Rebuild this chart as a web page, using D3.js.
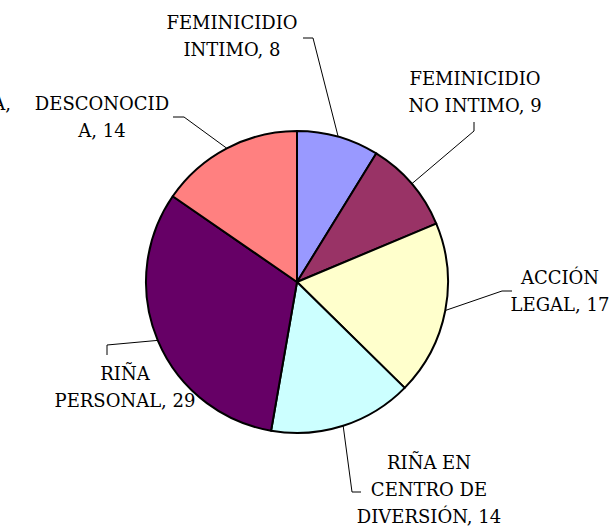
<!DOCTYPE html>
<html><head><meta charset="utf-8">
<script src="https://cdn.jsdelivr.net/npm/d3@7"></script>
<style>
html,body{margin:0;padding:0;background:#fff;}
svg{display:block;}
text{font-family:"DejaVu Serif",serif;font-size:18px;fill:#000;}
</style></head>
<body>
<script>
// Data
const categories = ["FEMINICIDIO INTIMO","FEMINICIDIO NO INTIMO","ACCIÓN LEGAL","RIÑA EN CENTRO DE DIVERSIÓN","RIÑA PERSONAL","DESCONOCIDA"];
const values = [8, 9, 17, 14, 29, 14];
const labelWraps = [["FEMINICIDIO","INTIMO"],["FEMINICIDIO","NO INTIMO"],["ACCIÓN","LEGAL"],["RIÑA EN","CENTRO DE","DIVERSIÓN"],["RIÑA","PERSONAL"],["DESCONOCID","A"]];
const colors = ["#9999FF","#993366","#FFFFCC","#CCFFFF","#660066","#FF8080"];

// Layout (label boxes and leader elbows)
const W = 614, H = 528, cx = 297, cy = 282, R = 151;
const labelPos = [
  {x:232, y:29,  elbow:[[313,38],[303,38]]},
  {x:475, y:85,  elbow:[[474,131],[474,122]]},
  {x:560, y:284, elbow:[[502,291],[512,291]]},
  {x:429, y:469, elbow:[[352,492],[361,492]]},
  {x:125, y:380, elbow:[[107,345],[107,355]]},
  {x:102, y:110, elbow:[[184,117],[173,117]]}
];
const lineH = 27;

const svg = d3.select("body").append("svg").attr("width",W).attr("height",H);
const g = svg.append("g").attr("transform",`translate(${cx},${cy})`);

const pie = d3.pie().sort(null).value(d=>d)(values);
const arc = d3.arc().innerRadius(0).outerRadius(R);

g.selectAll("path.slice").data(pie).join("path")
  .attr("class","slice")
  .attr("d",arc)
  .attr("fill",(d,i)=>colors[i])
  .attr("stroke","#000").attr("stroke-width",2).attr("stroke-linejoin","round");

// leader lines
const line = d3.line();
pie.forEach((d,i)=>{
  const a = (d.startAngle+d.endAngle)/2;
  const p0 = [cx + R*Math.sin(a), cy - R*Math.cos(a)];
  const pts = [p0, ...labelPos[i].elbow];
  svg.append("path").attr("d",line(pts)).attr("fill","none").attr("stroke","#000").attr("stroke-width",1);
});

// labels
pie.forEach((d,i)=>{
  const lines = labelWraps[i].slice();
  lines[lines.length-1] = lines[lines.length-1] + ", " + values[i];
  const t = svg.append("text").attr("text-anchor","middle");
  lines.forEach((s,j)=>{
    t.append("tspan").attr("x",labelPos[i].x).attr("y",labelPos[i].y + j*lineH).text(s);
  });
});

// partially visible label clipped at the left edge
svg.append("text").attr("text-anchor","end").attr("x",11).attr("y",110).text("A,");
</script>
</body></html>
